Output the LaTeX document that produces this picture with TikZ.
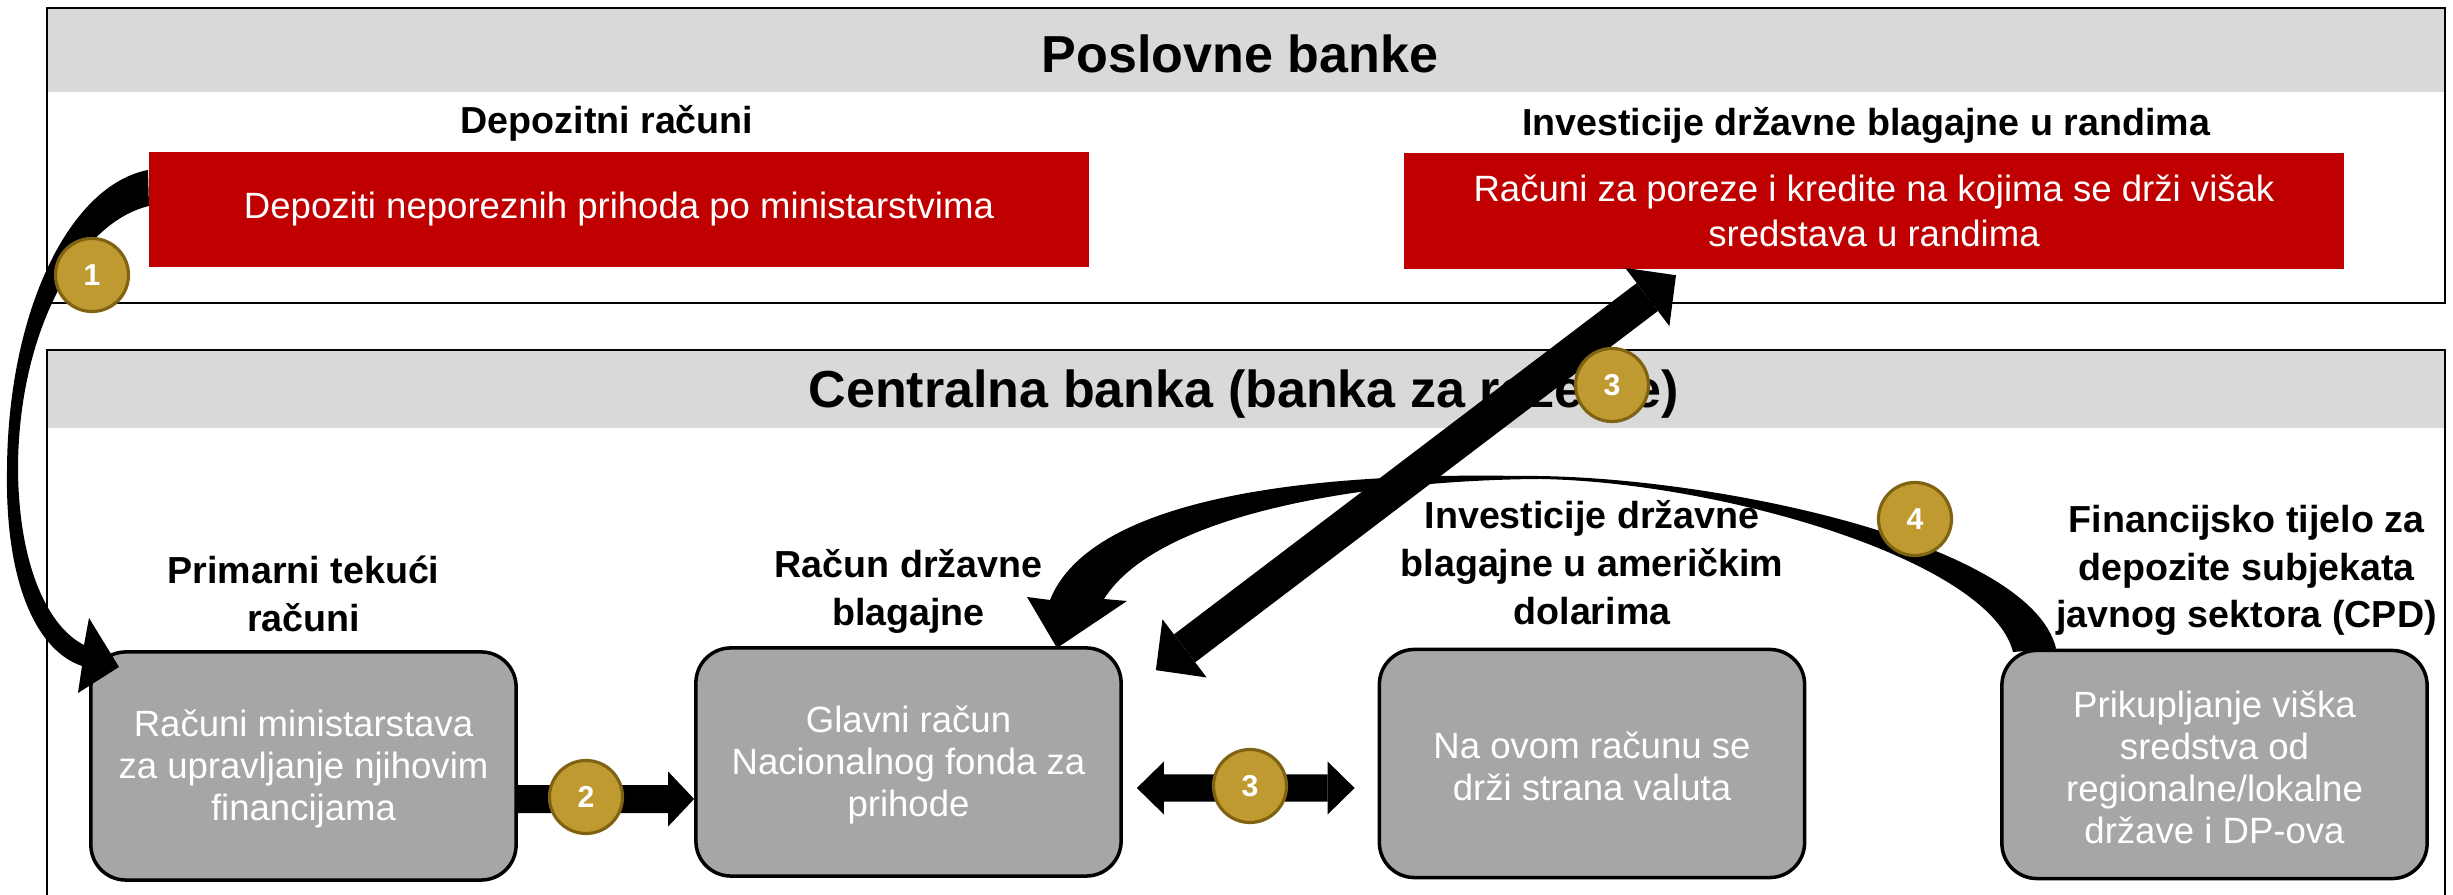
\documentclass[tikz,border=0pt]{standalone}
\usepackage{fontspec}
\setmainfont{Liberation Sans}
\usetikzlibrary{positioning,arrows.meta}

\definecolor{bandgrey}{RGB}{217,217,217}
\definecolor{boxgrey}{RGB}{166,166,166}
\definecolor{bankred}{RGB}{192,0,0}
\definecolor{badgegold}{RGB}{191,154,48}
\definecolor{badgerim}{RGB}{127,98,18}

\tikzset{
  bankframe/.style={draw=black, line width=0.6pt},
  bandtitle/.style={anchor=base, inner sep=0pt, font=\fontsize{14.8}{17}\selectfont\bfseries},
  redbox/.style={fill=bankred, text=white, minimum width=9.4cm, minimum height=1.15cm, align=center, inner sep=0pt, font=\fontsize{10.4}{12.8}\selectfont},
  greybox/.style={draw=black, line width=1pt, fill=boxgrey, rounded corners=0.35cm, minimum width=4.25cm, minimum height=2.28cm},
  boxtxt/.style={text=white, align=center, inner sep=0pt, font=\fontsize{10.4}{11.9}\selectfont},
  headtxt/.style={align=center, inner sep=0pt, font=\fontsize{10.7}{13.6}\selectfont\bfseries},
  badge/.style={circle, fill=badgegold, draw=badgerim, line width=0.9pt, minimum size=0.73cm, inner sep=0pt, text=white, font=\fontsize{8.6}{10}\selectfont\bfseries},
  flatarrow/.style={line width=0.28cm, -{Triangle[length=0.26cm, width=0.55cm, line width=0pt]}},
  flatdbl/.style={line width=0.27cm, {Triangle[length=0.27cm, width=0.53cm, line width=0pt]}-{Triangle[length=0.27cm, width=0.53cm, line width=0pt]}},
  diagdbl/.style={line width=0.35cm, {Triangle[length=0.36cm, width=0.73cm, line width=0pt]}-{Triangle[length=0.36cm, width=0.73cm, line width=0pt]}}
}

\begin{document}
\begin{tikzpicture}[x=0.01cm, y=-0.01cm]
  \useasboundingbox (0,0) rectangle (2453,895);
  \fill [bandgrey] (47,8) rectangle (2445,92);
  \draw [bankframe] (47,8) rectangle (2445,303);
  \fill [bandgrey] (47,350) rectangle (2445,428);
  \draw [bankframe] (47,900) -- (47,350) -- (2445,350) -- (2445,900);
  \node [bandtitle] (pb) at (1240,73) {Poslovne banke};
  \node [bandtitle] (cb) at (1244,408) {Centralna banka (banka za rezerve)};

  \node [redbox] (dep) at (619,209.5) {Depoziti neporeznih prihoda po ministarstvima};
  \node [redbox] (inv) at (1874,211) {Računi za poreze i kredite na kojima se drži višak\\sredstava u randima};
  \node [headtxt, above=0.09cm of dep, xshift=-0.12cm] (hdep) {Depozitni računi};
  \node [headtxt, above=0.09cm of inv, xshift=-0.08cm] (hinv) {Investicije državne blagajne u randima};

  \node [greybox] (A) at (303.5,766) {};
  \node [greybox] (B) at (908.5,762) {};
  \node [greybox] (C) at (1592,763.5) {};
  \node [greybox] (D) at (2214.5,764.5) {};
  \node [boxtxt] (tA) at ([yshift=-0.03cm]A.center) {Računi ministarstava\\za upravljanje njihovim\\financijama};
  \node [boxtxt] (tB) at ([yshift=-0.03cm]B.center) {Glavni račun\\Nacionalnog fonda za\\prihode};
  \node [boxtxt] (tC) at ([yshift=-0.03cm]C.center) {Na ovom računu se\\drži strana valuta};
  \node [boxtxt] (tD) at ([yshift=-0.03cm]D.center) {Prikupljanje viška\\sredstva od\\regionalne/lokalne\\države i DP-ova};
  \node [headtxt, above=0.18cm of A] (hA) {Primarni tekući\\računi};
  \node [headtxt, above=0.12cm of B] (hB) {Račun državne\\blagajne};
  \node [headtxt, above=0.22cm of C] (hC) {Investicije državne\\blagajne u američkim\\dolarima};
  \node [headtxt, above=0.12cm of D, xshift=0.32cm] (hD) {Financijsko tijelo za\\depozite subjekata\\javnog sektora (CPD)};

  \fill (dep.west) ++(0,-39.5) .. controls (70,185) and (8,310) .. (7,470)
    .. controls (5,590) and (40,652) .. (82,666) -- (78,693) -- (119,667) -- (89,618) -- (84,645)
    .. controls (50,628) and (19,570) .. (18,470) .. controls (18,330) and (80,222) .. (149,206) -- cycle;
  \fill (D.north west) ++(56,0) .. controls (2030,540) and (1700,474) .. (1520,476)
    .. controls (1300,472) and (1090,500) .. (1050,600) -- (1027,597) -- (1057,648) -- (1127,601) -- (1104,599)
    .. controls (1160,510) and (1380,480) .. (1540,479) .. controls (1720,482) and (1990,560) .. (2013,652) -- cycle;
  \draw [flatarrow] ([yshift=-0.33cm]A.east) -- ([yshift=-0.37cm]B.west);
  \draw [flatdbl] ([xshift=0.14cm,yshift=-0.26cm]B.east) -- ([xshift=-0.23cm,yshift=-0.245cm]C.west);
  \draw [diagdbl] ([shift={(33,24)}]B.north east) -- ([shift={(-198,6)}]inv.south);

  \node [badge] (n1) at (92,275) {1};
  \node [badge] (n2) at (586,797) {2};
  \node [badge] (n3a) at (1250,786) {3};
  \node [badge] (n3b) at (1612,385) {3};
  \node [badge] (n4) at (1915,519) {4};
\end{tikzpicture}
\end{document}
